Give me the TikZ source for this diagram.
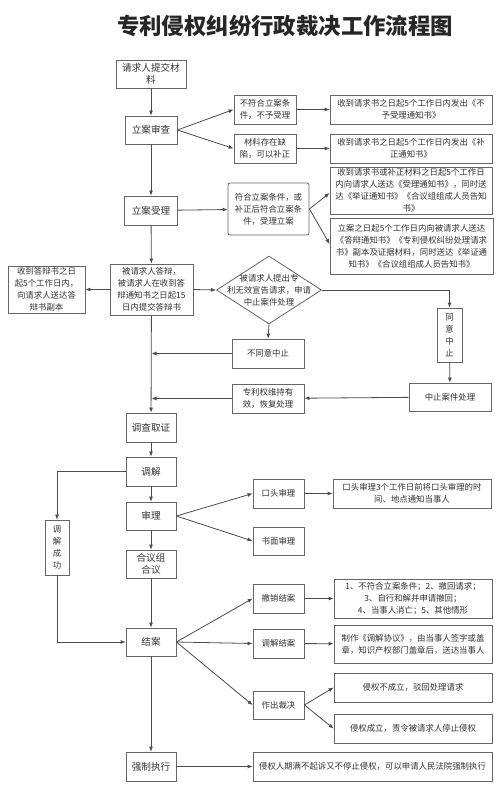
\documentclass[tikz,border=0pt]{standalone}
\usepackage{fontspec}
\setmainfont{Noto Sans CJK SC}
\usetikzlibrary{arrows.meta,shapes.geometric,calc}
\tikzset{
  box/.style={draw=black!60, line width=0.8pt, fill=white, inner sep=1pt, align=center,
    text=black!80, font=\fontsize{8.4}{12}\selectfont},
  mainbox/.style={box, font=\fontsize{9.6}{12.5}\selectfont},
  arr/.style={draw=black!70, line width=0.8pt, -{Latex[length=5pt,width=4pt]}},
  ln/.style={draw=black!70, line width=0.8pt},
}
\begin{document}
\begin{tikzpicture}[x=1pt,y=-1pt]
\fill[white] (0,0) rectangle (500,794);
\useasboundingbox (0,0) rectangle (500,794);
\node[text=black!85, font=\fontsize{22.4}{26}\selectfont\bfseries] (title) at (285,26) {专利侵权纠纷行政裁决工作流程图};

\node[mainbox, minimum width=70, minimum height=28] (n1) at (151,74) {请求人提交材\\料};
\node[mainbox, minimum width=52, minimum height=28] (n2) at (151,130) {立案审查};
\node[box, minimum width=62, minimum height=29] (n3) at (265,109.5) {不符合立案条\\件，不予受理};
\node[box, minimum width=162, minimum height=29] (n4) at (411,109.5) {收到请求书之日起5个工作日内发出《不\\予受理通知书》};
\node[box, minimum width=62, minimum height=29] (n5) at (265,148.5) {材料存在缺\\陷，可以补正};
\node[box, minimum width=162, minimum height=29] (n6) at (411,148.5) {收到请求书之日起5个工作日内发出《补\\正通知书》};
\node[mainbox, minimum width=53, minimum height=29] (n7) at (151,210.5) {立案受理};
\node[box, rounded corners=2pt, minimum width=81, minimum height=52] (n8) at (268.5,209) {符合立案条件，或\\补正后符合立案条\\件，受理立案};
\node[box, minimum width=162, minimum height=47] (n9) at (411,190.5) {收到请求书或补正材料之日起5个工作日\\内向请求人送达《受理通知书》，同时送\\达《举证通知书》《合议组组成人员告知\\书》};
\node[box, minimum width=163, minimum height=56] (n10) at (411.5,246) {立案之日起5个工作日内向被请求人送达\\《答辩通知书》《专利侵权纠纷处理请求\\书》副本及证据材料，同时送达《举证通\\知书》《合议组组成人员告知书》};
\node[box, minimum width=83, minimum height=51] (n11) at (151.5,289.5) {被请求人答辩，\\被请求人在收到答\\辩通知书之日起15\\日内提交答辩书};
\node[box, minimum width=77, minimum height=47] (n12) at (46.5,289.5) {收到答辩书之日\\起5个工作日内，\\向请求人送达答\\辩书副本};
\node[draw=black!60, line width=0.8pt, diamond, minimum width=105, minimum height=68, inner sep=0pt] (dia) at (269,290) {};
\node[box, draw=none, fill=none] (diat) at (dia.center) {被请求人提出专\\利无效宣告请求，申请\\中止案件处理};
\node[box, minimum width=25, minimum height=54] (n14) at (449.5,335) {同\\意\\中\\止};
\node[box, minimum width=72, minimum height=29] (n15) at (268,353.5) {不同意中止};
\node[box, minimum width=72, minimum height=29] (n16) at (268,398.5) {专利权维持有\\效，恢复处理};
\node[box, minimum width=82, minimum height=28] (n17) at (450,397) {中止案件处理};
\node[mainbox, minimum width=50, minimum height=29] (n18) at (151,427.5) {调查取证};
\node[mainbox, minimum width=50, minimum height=29] (n19) at (151,471.5) {调解};
\node[mainbox, minimum width=50, minimum height=28] (n20) at (151,516) {审理};
\node[mainbox, minimum width=50, minimum height=28] (n21) at (151,564) {合议组\\合议};
\node[box, minimum width=24, minimum height=55] (n22) at (57,547.5) {调\\解\\成\\功};
\node[box, minimum width=51, minimum height=29] (n23) at (278.5,493.5) {口头审理};
\node[box, minimum width=158, minimum height=29] (n24) at (412,493.5) {口头审理3个工作日前将口头审理的时\\间、地点通知当事人};
\node[box, minimum width=51, minimum height=28] (n25) at (278.5,541) {书面审理};
\node[mainbox, minimum width=50, minimum height=28] (n26) at (151,642) {结案};
\node[box, minimum width=51, minimum height=29] (n27) at (278.5,598.5) {撤销结案};
\node[box, minimum width=158, minimum height=39] (n28) at (413,598.5) {1、不符合立案条件；2、撤回请求；\\3、自行和解并申请撤回；\\4、当事人消亡；5、其他情形};
\node[box, minimum width=51, minimum height=29] (n29) at (278.5,643.5) {调解结案};
\node[box, minimum width=158, minimum height=38] (n30) at (413,644) {制作《调解协议》，由当事人签字或盖\\章，知识产权部门盖章后，送达当事人};
\node[box, minimum width=51, minimum height=28] (n31) at (278.5,705) {作出裁决};
\node[box, minimum width=158, minimum height=29] (n32) at (413,687.5) {侵权不成立，驳回处理请求};
\node[box, minimum width=158, minimum height=29] (n33) at (413,728.5) {侵权成立，责令被请求人停止侵权};
\node[mainbox, minimum width=50, minimum height=29] (n34) at (151,766.5) {强制执行};
\node[box, minimum width=239, minimum height=29] (n35) at (372.5,766.5) {侵权人期满不起诉又不停止侵权，可以申请人民法院强制执行};

\coordinate (j1) at (n11.south |- n15.west);
\coordinate (j2) at (n11.south |- n16.west);

\draw[arr] (n1) -- (n2);
\draw[arr] (n2.east) -- (n3.west);
\draw[arr] (n2.east) -- (n5.west);
\draw[arr] (n3) -- (n4);
\draw[arr] (n5) -- (n6);
\draw[arr] (n2) -- (n7);
\draw[arr] (n7) -- (n8);
\draw[arr] (n8.east) -- ($(n9.west)+(0,2.5)$);
\draw[arr] (n8.east) -- ($(n10.west)+(0,-2)$);
\draw[arr] (n7) -- (n11);
\draw[arr] (n11) -- (n12);
\draw[arr] (n11.east) -- (dia.west);
\draw[arr] (dia.east) -| (n14.north);
\draw[arr] (n14) -- (n17);
\draw[arr] (n17) -- (n16);
\draw[arr] (n16.west) -- (j2);
\draw[arr] (dia.south) -- (n15.north);
\draw[arr] (n15.west) -- (j1);
\draw[arr] (n11) -- (n18);
\draw[arr] (n18) -- (n19);
\draw[arr] (n19) -- (n20);
\draw[arr] (n20) -- (n21);
\draw[arr] (n21) -- (n26);
\draw[arr] (n26) -- (n34);
\draw[arr] (n19.west) -| (n22.north);
\draw[arr] (n22.south) |- (n26.west);
\draw[arr] (n20.east) -- (n23.west);
\draw[arr] (n20.east) -- (n25.west);
\draw[arr] (n23) -- (n24);
\draw[arr] (n26.east) -- (n27.west);
\draw[arr] (n26.east) -- (n29.west);
\draw[arr] (n26.east) -- (n31.west);
\draw[arr] (n27) -- (n28);
\draw[arr] (n29) -- (n30);
\draw[arr] (n31.east) -- (n32.west);
\draw[arr] (n31.east) -- (n33.west);
\draw[arr] (n34) -- (n35);
\end{tikzpicture}
\end{document}
